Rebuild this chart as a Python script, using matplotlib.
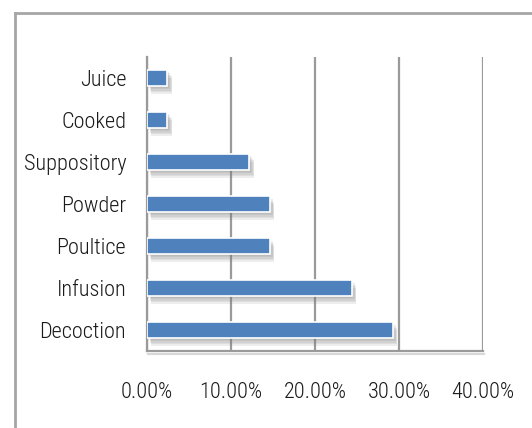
#!/usr/bin/env python3
"""Share of preparation methods, horizontal bar chart."""
import matplotlib
matplotlib.use("Agg")
import matplotlib.pyplot as plt
import matplotlib.patheffects as pe
from matplotlib import font_manager
from matplotlib.lines import Line2D
from matplotlib.ticker import FuncFormatter

CATEGORIES = ["Decoction", "Infusion", "Poultice", "Powder", "Suppository", "Cooked", "Juice"]
SHARES = [29.27, 24.39, 14.63, 14.63, 12.20, 2.44, 2.44]
XTICKS = [0, 10, 20, 30, 40]

BAR_COLOR = "#4F81BD"
GRID_COLOR = "#9A9A9A"
FRAME_COLOR = "#A6A6A6"


def pick_font():
    # prefer a narrow face, fall back to the default sans
    names = {f.name: f for f in font_manager.fontManager.ttflist}
    for cand in ["Liberation Sans Narrow", "Roboto Condensed", "Open Sans Condensed",
                 "DejaVu Sans Condensed"]:
        if cand in names:
            return cand, "normal"
    for f in font_manager.fontManager.ttflist:
        if f.name == "DejaVu Sans" and f.stretch in ("condensed", "semi-condensed"):
            return "DejaVu Sans", "condensed"
    return "DejaVu Sans", "normal"


def soft_shadow():
    # a few faint offset copies stand in for a blurred drop shadow
    layers = []
    for dx, dy in [(1, -1.5), (2, -2.5), (2.5, -3.5), (3, -4.5), (3, -5.5)]:
        layers.append(pe.SimplePatchShadow(offset=(dx, dy), shadow_rgbFace="#7a7a7a", alpha=0.13))
    layers.append(pe.Normal())
    return layers


def main():
    family, stretch = pick_font()
    plt.rcParams["font.family"] = family
    plt.rcParams["font.stretch"] = stretch
    plt.rcParams["font.weight"] = "light"

    fig = plt.figure(figsize=(5.32, 4.28), dpi=100)
    ax = fig.add_axes([147 / 532, 1 - 351 / 428, 336 / 532, 294 / 428])

    y = list(range(len(CATEGORIES)))
    ax.barh(y, SHARES, height=0.38, color=BAR_COLOR, edgecolor="white", linewidth=1.2,
            path_effects=soft_shadow(), zorder=3)

    ax.set_xlim(0, 40)
    ax.set_ylim(-0.5, len(CATEGORIES) - 0.5)
    ax.set_xticks(XTICKS)
    ax.xaxis.set_major_formatter(FuncFormatter(lambda v, _: f"{v:.2f}%"))
    ax.set_yticks(y)
    ax.set_yticklabels(CATEGORIES)

    ax.grid(axis="x", color=GRID_COLOR, linewidth=1.6, zorder=0)
    ax.set_axisbelow(True)
    for side in ["top", "right"]:
        ax.spines[side].set_visible(False)
    for side in ["left", "bottom"]:
        ax.spines[side].set_color(GRID_COLOR)
        ax.spines[side].set_linewidth(1.6)
    ax.spines["bottom"].set_path_effects(
        [pe.SimpleLineShadow(offset=(1, -2), shadow_color="#808080", alpha=0.3), pe.Normal()])
    ax.tick_params(axis="both", length=0, labelsize=16, colors="#1a1a1a")
    ax.tick_params(axis="y", pad=15)
    ax.tick_params(axis="x", pad=22)

    # chart area frame, clipped by the image edges on the right and bottom
    w, h = 532, 428
    fig.add_artist(Line2D([15 / w, 1.0], [1 - 13 / h, 1 - 13 / h], color=FRAME_COLOR, linewidth=2))
    fig.add_artist(Line2D([15 / w, 15 / w], [1 - 13 / h, 0.0], color=FRAME_COLOR, linewidth=2))

    fig.savefig("out.png", dpi=100)
    plt.close(fig)


if __name__ == "__main__":
    main()
